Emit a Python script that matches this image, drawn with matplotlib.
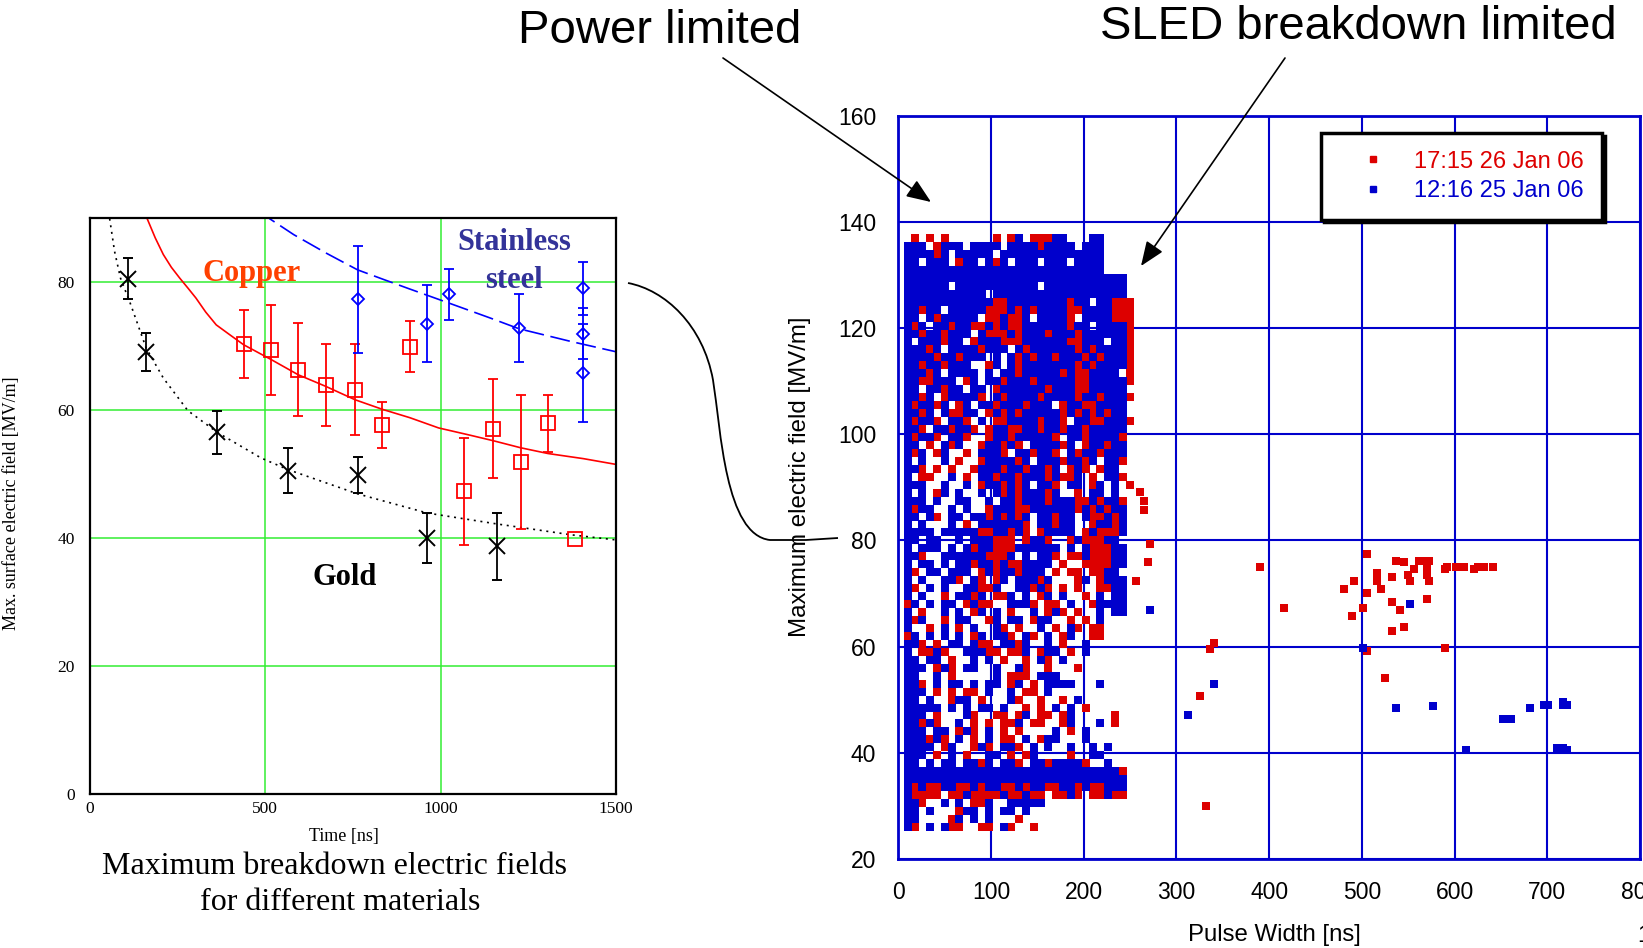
import numpy as np
import matplotlib.pyplot as plt
from matplotlib.lines import Line2D
from matplotlib.patches import FancyArrowPatch, PathPatch
from matplotlib.path import Path

plt.rcParams['font.family'] = ['Liberation Sans', 'DejaVu Sans']

# ---------------- left panel: breakdown field vs pulse length ----------------
gold_t = [107, 160, 363, 564, 763, 962, 1160]
gold_e = [80.5, 69.1, 56.5, 50.5, 49.9, 40.0, 38.7]
gold_err = [3.2, 3.0, 3.4, 3.5, 2.8, 3.9, 5.2]

copper_t = [438, 516, 594, 672, 756, 834, 912, 1066, 1150, 1228, 1306, 1384]
copper_e = [70.3, 69.4, 66.3, 63.9, 63.2, 57.6, 69.9, 47.3, 57.1, 51.9, 57.9, 39.9]
copper_err = [5.3, 7.0, 7.3, 6.4, 7.1, 3.6, 4.0, 8.4, 7.8, 10.5, 4.5, np.nan]

steel_t = [763, 962, 1024, 1223, 1407, 1407, 1407]
steel_e = [77.3, 73.5, 78.1, 72.8, 79.0, 71.9, 65.8]
steel_err = [8.4, 6.0, 4.0, 5.3, 4.1, 4.0, 7.7]

# fitted curves, sampled along the drawn lines
gold_fit_t = [50, 56, 70, 87, 116, 160, 209, 279, 363, 488, 564, 763, 962, 1160, 1372, 1500]
gold_fit_e = [93, 89.9, 84.8, 80.6, 76.5, 69.7, 65.0, 59.9, 56.5, 52.5, 50.7, 46.9, 43.9, 42.2, 40.5, 39.7]
copper_fit_t = [147, 163, 186, 209, 232, 256, 280, 302, 330, 360, 400, 438, 516, 594, 672, 756, 834,
                912, 994, 1081, 1150, 1228, 1306, 1407, 1500]
copper_fit_e = [93, 89.9, 86.9, 84.3, 82.3, 80.6, 79.0, 77.5, 75.3, 73.3, 71.7, 70.2, 67.9, 65.5, 63.7,
                61.6, 60.1, 58.8, 57.2, 56.1, 55.2, 54.1, 53.2, 52.4, 51.5]
steel_fit_t = [485, 512, 581, 674, 763, 837, 907, 1024, 1140, 1223, 1372, 1500]
steel_fit_e = [91.5, 89.9, 87.4, 84.5, 81.9, 80.4, 79.0, 76.7, 74.4, 72.7, 70.7, 69.1]

# ---------------- right panel: pulse width scan ----------------
series_labels = ['17:15 26 Jan 06', '12:16 25 Jan 06']

cloud_width = [10, 18, 26, 34, 42, 50, 58, 66, 74, 82, 90, 98, 106, 114, 122, 130,
               138, 146, 154, 162, 170, 178, 186, 194, 202, 210, 218, 226, 234, 242, 250]
cloud_field = [137, 135.5, 134, 132.5, 131, 129.5, 128, 126.5, 125, 123.5,
               122, 120.5, 119, 117.5, 116, 114.5, 113, 111.5, 110, 108.5,
               107, 105.5, 104, 102.5, 101, 99.5, 98, 96.5, 95, 93.5,
               92, 90.5, 89, 87.5, 86, 84.5, 83, 81.5, 80, 78.5,
               77, 75.5, 74, 72.5, 71, 69.5, 68, 66.5, 65, 63.5,
               62, 60.5, 59, 57.5, 56, 54.5, 53, 51.5, 50, 48.5,
               47, 45.5, 44, 42.5, 41, 39.5, 38, 36.5, 35, 33.5,
               32, 30.5, 29, 27.5, 26]
# r = 26 Jan shot, b = 25 Jan shot, . = no event
cloud_rows = [
    ".r.r.r......r.rb.rrrbb...bb....",
    "bbb.rbbb.bbbb.bbbbrbbbb.bbb....",
    "bbbbrb.bbbbb.bbbbbbbbbbbbbb....",
    "bb.bbb.rbb.brb.bbb.bbb.bbbb....",
    "bbbbbbbbbbbbbbbbbbbbbbbbbbb....",
    "bbbbbbbbbbbbbbbbbbbbbbbbbbbbbb.",
    "bbbbbb.bbbbbbbbbbb.bbbbbbbbbbb.",
    "bbbbbbbbbbb.bbbbbbbbbbbbbbbbbb.",
    "bbbbbbbbbbbbrrbbbbbbbbrbb.bbrrr",
    "bbrbb.bbbbbrrrbrbrbbbbrrbbbbrrr",
    "bb.brbbbbb.rrbrrb.bbbbr.bbbbrrr",
    "brb.bbrbbrrbrbrrbbbbbbrbb.bbbbr",
    "bbrbbrbbb.brrrbrbbbrbbbrbbbbbbr",
    "b.bbbrbb.rbbbrrrbbbbbbrrbbb.bbr",
    "bbbrb.bbbbrbbb.brbbbbbbrbrbbbbr",
    "bbbbrbbrbbb.b.brbrbbrbbbrbrbbbr",
    "bbrbbrbbb..rb.brbbbbbbbrbrbbbbr",
    "bbbrb.bbbb.b.bbrbbbbbrbrrbbbb.r",
    "bbrrbbb.rb.bbrbbbrbbbbbrrbbbbbr",
    "bb.bbrbb.bb.rbbbbbbrbbbrrbbbbb.",
    "bbrb.rbbbbr.brbbbbrbbbbrbbrbbbr",
    "brbbrb.rb.bbrbbbrbbb.rbbrrbbbb.",
    "bbrb.brrbb.rbrbrbbbbbrbrbrbrbb.",
    "brbbr.bbr.b.rrbbbbrbbr.bbrrbbbr",
    "bbr.bbrbbr.rbbrrbbrbbrbbrbbbbb.",
    "brbbr.bbr..rbbrbbbbbr.bbrbbbbr.",
    "bb.r.brb..rbbrbr.bbbbrb.rbbrbb.",
    "brb.rb..r.bbbr.bbrbbr.brbbrbbb.",
    "b.b..b.r..rbbbbrb.bbbrbbrb.bbr.",
    "bbr.r.r..rbbbrbbrbbrb.rbr.rbb..",
    "b.rr..b.r.bbrbbrbbbrbrrb.r.bbr.",
    "bbb..b..b.rbbrbrb.bbr.bb.rb.b.r",
    "b.b.rb.b..b.brbrbbbrb..r.bb.b..",
    "bbb.b..bb..b.bbrbbbrbbbrrbrbbr.",
    "brbb..b.b..rbbbrrbbbbbbrbrbrbb.",
    "bb.br.bb.bbrbrbrb.bbrbb.brrbrb.",
    "b.b...b.r.bbbbbbr.bbrbb..rbbrb.",
    "bbbb.bbbbbrrbbrbr.rbbbb.rbrrrb.",
    "bb.bb..b.bbbrrr.rbbr..rbrrrbb..",
    "b.bbb.b.brbbrrrbbbbbb.b.brrrbb.",
    "bbr..bbbbbbrrrb.b.bbr.rrbrrrbb.",
    "b.bb.b.bbrbbrbrrbbbb.r..rrrrbb.",
    "br.bb.bbb.rbrbbrbbb.r.rr.rrbb..",
    "b.b..bbr.br.rb.bbbrb...rb.rbbb.",
    "br.b.b..bbrrb..bbrbr.r.r..rrbb.",
    "b.b..r.bbrb.rrb.b.rb.b..r.b.bb.",
    "rb.b.bb.rbrr..bbbr.rr.b..rbbbb.",
    "b.r..b.b.rb.b.r..b.rbr.r..b.bb.",
    "brb..r.bb..rb.bb.rbb..r.r.b....",
    "b..r.b.r.b..br.r..b.r.br.rr....",
    "rb.b.b.b.rb.bbr.br.b.rb..rr....",
    "bbr.r.bb.brr.bbrb..b.r..b......",
    "b.rrbr..bbbrr.rrb.rbb.r.b......",
    "bb.bb.r..b.b.r..r.br.b.........",
    "bbb.rbr.bb..b..br..r...r.......",
    "bb..b.r.....b.rrr.bbb..........",
    "bbr.b.bb.b.bb.rb.r.bbbb...b....",
    "bbb.r.r.rr.b..b.rr.b...........",
    "bb.b..rbb.r...br..r..r.b.......",
    "bbbbb.b.b.bb.b..r.r.b.b.r......",
    "bbb.r...br..rr.rb.rr.rb.....r..",
    "bbrbr..b.r.r.rrb.rr..rb...b.r..",
    "bbb.bb.rbr.b.r.r....b.r.b......",
    "bbbrbr.b.r.b.rr.b.rbb...b......",
    "bbbb.rb..rbr.bbr.b.b..b..b.b...",
    "bbb.r.b.r..bb.r.rb....r..bb....",
    "bb.b.bb.bbrb.bbr.bbrbbbbr..b...",
    "bbbbbbbbbbbbbbbbbbbbbbbbbbbbbr.",
    "bbbbbbbbbbbbbbbbbbbbbbbbbbbbbb.",
    "brbrrbbrrbrbbrrbrbbrrbbrbrrbbb.",
    "brrrr.rrbrrrrbrrbrr.rrbr.rrbrr.",
    "bbr..b.b.rrb..bbbbb............",
    "bb.b...rbb.b.bb.b..............",
    "bb....rb.b.b...r...............",
    "br.b.brr..rr.br..r.............",
]
assert len(cloud_rows) == len(cloud_field)
assert all(len(r) == len(cloud_width) for r in cloud_rows)

# isolated events at long pulse widths
red_extra_w = [260.7, 265.1, 265.1, 271.5, 269.4, 256.4, 325.8, 332.3, 336.6, 340.9, 390.5, 416.4,
               481.1, 491.9, 489.8, 501.6, 505.9, 505.9, 505.9, 516.7, 516.7, 521.0, 525.3, 532.9,
               532.9, 532.9, 537.2, 541.5, 545.8, 545.8, 550.2, 552.3, 556.6, 562.0, 570.6, 572.8,
               570.6, 570.6, 572.8, 570.6, 590.0, 590.0, 592.2, 601.9, 610.6, 620.7, 625.0, 631.5, 641.8]
red_extra_e = [89.1, 87.4, 85.7, 79.3, 75.9, 72.3, 50.6, 29.9, 59.5, 60.6, 74.9, 67.2,
               70.8, 72.3, 65.7, 67.2, 77.4, 70.0, 59.1, 73.8, 72.3, 70.8, 54.0, 73.1,
               68.3, 63.0, 76.2, 66.8, 75.9, 63.6, 73.4, 72.3, 74.7, 76.2, 76.2, 76.2,
               74.6, 73.4, 72.3, 68.9, 74.6, 59.8, 74.9, 74.9, 74.9, 74.7, 74.9, 74.9, 74.9]
blue_extra_w = [271.5, 312.8, 340.9, 501.6, 537.2, 552.3, 577.1, 612.7, 652.6, 661.3, 681.8,
                696.9, 701.2, 710.9, 717.4, 717.4, 717.4, 721.7, 721.7]
blue_extra_e = [66.8, 47.0, 52.9, 59.8, 48.5, 68.0, 48.7, 40.5, 46.3, 46.3, 48.5,
                48.9, 48.9, 40.8, 49.6, 48.9, 40.8, 48.9, 40.5]

W, H = 1643, 948
fig = plt.figure(figsize=(W / 100, H / 100), dpi=100)


def fx(px):
    return px / W


def fy(py):
    return 1 - py / H


SERIF = 'Liberation Serif'
RED = '#dd0000'
BLUE = '#0000cc'

# ---------- left axes ----------
axl = fig.add_axes([fx(90), fy(794), fx(616) - fx(90), fy(218) - fy(794)])
axl.set_xlim(0, 1500)
axl.set_ylim(0, 90)
axl.set_xticks([0, 500, 1000, 1500])
axl.set_yticks([0, 20, 40, 60, 80])
axl.grid(True, color='#33ee33', lw=1.1)
axl.set_axisbelow(True)
axl.tick_params(axis='y', length=0, labelsize=12.5, pad=10.8)
axl.tick_params(axis='x', length=0, labelsize=12.5, pad=4.9)
for lab in axl.get_xticklabels() + axl.get_yticklabels():
    lab.set_family(SERIF)
for sp in axl.spines.values():
    sp.set_linewidth(1.6)
    sp.set_color('black')

axl.plot(gold_fit_t, gold_fit_e, color='black', lw=1.2, dashes=(1.2, 2.8))
axl.plot(copper_fit_t, copper_fit_e, color='#ff0000', lw=1.2)
axl.plot(steel_fit_t, steel_fit_e, color='#0000ff', lw=1.2, dashes=(12, 4))

axl.errorbar(gold_t, gold_e, yerr=gold_err, fmt='x', color='black', ms=11, mew=1.4,
             elinewidth=1.3, capsize=3.5, capthick=1.3)
axl.errorbar(copper_t, copper_e, yerr=copper_err, fmt='s', color='#ff0000', mfc='none',
             ms=10.5, mew=1.3, elinewidth=1.3, capsize=3.5, capthick=1.3)
axl.errorbar(steel_t, steel_e, yerr=steel_err, fmt='D', color='#0000ff', mfc='none',
             ms=6.5, mew=1.3, elinewidth=1.3, capsize=3.5, capthick=1.3)

axl.text(460, 81.4, 'Copper', color='#ff4000', fontsize=22, fontweight='bold',
         family=SERIF, ha='center', va='center')
axl.text(1210, 86.2, 'Stainless', color='#333399', fontsize=22, fontweight='bold',
         family=SERIF, ha='center', va='center')
axl.text(1210, 80.3, 'steel', color='#333399', fontsize=22, fontweight='bold',
         family=SERIF, ha='center', va='center')
axl.text(726, 33.9, 'Gold', color='black', fontsize=22, fontweight='bold',
         family=SERIF, ha='center', va='center')

axl.set_xlabel('Time [ns]', family=SERIF, fontsize=13)
axl.xaxis.set_label_coords(0.482, -0.059)
axl.set_ylabel('Max. surface electric field [MV/m]', family=SERIF, fontsize=13)
axl.yaxis.set_label_coords(-0.134, 0.505)

fig.text(fx(335), fy(866), 'Maximum breakdown electric fields', family=SERIF,
         fontsize=23, ha='center', va='center')
fig.text(fx(340), fy(903), 'for different materials', family=SERIF,
         fontsize=23, ha='center', va='center')

# ---------- right axes ----------
axr = fig.add_axes([fx(898.3), fy(858.7), (1640 - 898.3) / W, (858.7 - 116) / H])
axr.set_xlim(0, 800)
axr.set_ylim(20, 160)
axr.set_xticks([0, 100, 200, 300, 400, 500, 600, 700, 800])
axr.set_yticks([20, 40, 60, 80, 100, 120, 140, 160])
axr.grid(True, color=BLUE, lw=1.5)
axr.set_axisbelow(True)
axr.tick_params(axis='y', length=0, labelsize=16.5, pad=16)
axr.tick_params(axis='x', length=0, labelsize=16.5, pad=15.8)
for sp in axr.spines.values():
    sp.set_linewidth(2)
    sp.set_color(BLUE)

red_w, red_e, blue_w, blue_e = [], [], [], []
for e, row in zip(cloud_field, cloud_rows):
    for w, c in zip(cloud_width, row):
        if c == 'r':
            red_w.append(w)
            red_e.append(e)
        elif c == 'b':
            blue_w.append(w)
            blue_e.append(e)
red_w += red_extra_w
red_e += red_extra_e
blue_w += blue_extra_w
blue_e += blue_extra_e

axr.scatter(red_w, red_e, marker='s', s=34, color=RED, linewidths=0, zorder=3)
axr.scatter(blue_w, blue_e, marker='s', s=34, color=BLUE, linewidths=0, zorder=4)

handles = [Line2D([], [], ls='none', marker='s', ms=5, color=RED),
           Line2D([], [], ls='none', marker='s', ms=5, color=BLUE)]
leg = axr.legend(handles, series_labels, loc='upper left',
                 bbox_to_anchor=(fx(1321), fy(133)), bbox_transform=fig.transFigure,
                 borderaxespad=0, fontsize=17, frameon=True, fancybox=False,
                 edgecolor='black', framealpha=1, borderpad=0.75, handlelength=2.9,
                 handletextpad=0.3, labelspacing=0.3,
                 shadow={'color': 'black', 'alpha': 1})
leg.get_frame().set_linewidth(2.5)
for txt, c in zip(leg.get_texts(), [RED, BLUE]):
    txt.set_color(c)

axr.set_xlabel('Pulse Width [ns]', fontsize=17.3)
axr.xaxis.set_label_coords(0.507, -0.0875)
axr.set_ylabel('Maximum electric field [MV/m]', fontsize=17.3)
axr.yaxis.set_label_coords(-0.1177, 0.5146)

# ---------- annotations ----------
fig.text(fx(660), fy(31), 'Power limited', fontsize=34, ha='center', va='center')
fig.text(fx(1358), fy(27), 'SLED breakdown limited', fontsize=34, ha='center', va='center')

for (x0, y0), (x1, y1) in [((723, 58), (931, 202)), ((1285, 58), (1141, 266))]:
    fig.add_artist(FancyArrowPatch((fx(x0), fy(y0)), (fx(x1), fy(y1)),
                                   transform=fig.transFigure,
                                   arrowstyle='-|>,head_length=0.75,head_width=0.3',
                                   mutation_scale=20, color='black', lw=1.2,
                                   shrinkA=0, shrinkB=0, zorder=10))

link_px = [(628, 283), (665, 290), (703, 325), (713, 380),
           (721, 430), (725, 535), (770, 540), (806, 540), (838, 538)]
link_codes = [Path.MOVETO] + [Path.CURVE4] * 6 + [Path.LINETO] * 2
link = Path([(fx(x), fy(y)) for x, y in link_px], link_codes)
fig.add_artist(PathPatch(link, transform=fig.transFigure, fill=False,
                         edgecolor='black', lw=1.3, zorder=10))

fig.text(fx(1637), fy(936), '1', fontsize=17, ha='left', va='center')

fig.savefig('out.png', dpi=100)
